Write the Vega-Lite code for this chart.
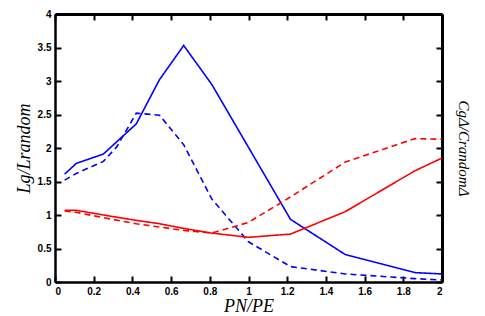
{
  "$schema": "https://vega.github.io/schema/vega-lite/v6.json",
  "width": 387,
  "height": 268,
  "autosize": {"type": "none"},
  "padding": {"left": 55, "top": 14, "right": 43, "bottom": 34},
  "background": "white",
  "config": {
    "view": {"stroke": null},
    "axis": {
      "grid": false,
      "labelFont": "Liberation Sans",
      "labelFontWeight": "bold",
      "labelFontSize": 10,
      "labelColor": "black",
      "titleFont": "Liberation Serif",
      "titleFontStyle": "italic",
      "titleFontWeight": "normal",
      "titleFontSize": 18,
      "titleColor": "black"
    }
  },
  "data": {
    "values": [
      {"P": 0.05, "v": 1.61, "s": "Lg solid"},
      {"P": 0.11, "v": 1.77, "s": "Lg solid"},
      {"P": 0.25, "v": 1.91, "s": "Lg solid"},
      {"P": 0.42, "v": 2.36, "s": "Lg solid"},
      {"P": 0.54, "v": 3.02, "s": "Lg solid"},
      {"P": 0.665, "v": 3.53, "s": "Lg solid"},
      {"P": 0.81, "v": 2.95, "s": "Lg solid"},
      {"P": 1.217, "v": 0.935, "s": "Lg solid"},
      {"P": 1.5, "v": 0.41, "s": "Lg solid"},
      {"P": 1.86, "v": 0.14, "s": "Lg solid"},
      {"P": 2.0, "v": 0.12, "s": "Lg solid"},

      {"P": 0.05, "v": 1.52, "s": "Lg dashed"},
      {"P": 0.11, "v": 1.62, "s": "Lg dashed"},
      {"P": 0.25, "v": 1.8, "s": "Lg dashed"},
      {"P": 0.32, "v": 2.02, "s": "Lg dashed"},
      {"P": 0.42, "v": 2.52, "s": "Lg dashed"},
      {"P": 0.54, "v": 2.49, "s": "Lg dashed"},
      {"P": 0.665, "v": 2.05, "s": "Lg dashed"},
      {"P": 0.81, "v": 1.24, "s": "Lg dashed"},
      {"P": 1.0, "v": 0.6, "s": "Lg dashed"},
      {"P": 1.217, "v": 0.23, "s": "Lg dashed"},
      {"P": 1.5, "v": 0.12, "s": "Lg dashed"},
      {"P": 1.86, "v": 0.05, "s": "Lg dashed"},
      {"P": 2.0, "v": 0.03, "s": "Lg dashed"},

      {"P": 0.05, "v": 1.07, "s": "C solid"},
      {"P": 0.11, "v": 1.07, "s": "C solid"},
      {"P": 0.25, "v": 1.0, "s": "C solid"},
      {"P": 0.42, "v": 0.92, "s": "C solid"},
      {"P": 0.54, "v": 0.87, "s": "C solid"},
      {"P": 0.665, "v": 0.8, "s": "C solid"},
      {"P": 0.81, "v": 0.73, "s": "C solid"},
      {"P": 1.0, "v": 0.667, "s": "C solid"},
      {"P": 1.217, "v": 0.715, "s": "C solid"},
      {"P": 1.5, "v": 1.05, "s": "C solid"},
      {"P": 1.86, "v": 1.66, "s": "C solid"},
      {"P": 2.0, "v": 1.85, "s": "C solid"},

      {"P": 0.05, "v": 1.06, "s": "C dashed"},
      {"P": 0.11, "v": 1.04, "s": "C dashed"},
      {"P": 0.25, "v": 0.96, "s": "C dashed"},
      {"P": 0.42, "v": 0.87, "s": "C dashed"},
      {"P": 0.54, "v": 0.82, "s": "C dashed"},
      {"P": 0.665, "v": 0.77, "s": "C dashed"},
      {"P": 0.81, "v": 0.73, "s": "C dashed"},
      {"P": 1.0, "v": 0.89, "s": "C dashed"},
      {"P": 1.217, "v": 1.27, "s": "C dashed"},
      {"P": 1.5, "v": 1.79, "s": "C dashed"},
      {"P": 1.86, "v": 2.14, "s": "C dashed"},
      {"P": 2.0, "v": 2.13, "s": "C dashed"}
    ]
  },
  "layer": [
    {
      "mark": {"type": "line", "strokeWidth": 1.6, "clip": true},
      "encoding": {
        "x": {"field": "P", "type": "quantitative",
              "scale": {"domain": [0, 2], "nice": false, "zero": false},
              "axis": {"orient": "bottom", "title": "PN/PE", "values": [0, 0.2, 0.4, 0.6, 0.8, 1, 1.2, 1.4, 1.6, 1.8, 2], "format": "~f",
                       "domain": true, "domainColor": "black", "domainWidth": 2.5, "domainOpacity": 1,
                       "ticks": true, "tickSize": -6, "tickWidth": 2, "tickColor": "#000000", "tickOpacity": 1,
                       "labelPadding": 10, "titlePadding": 1}},
        "y": {"field": "v", "type": "quantitative",
              "scale": {"domain": [0, 4], "nice": false},
              "axis": {"orient": "left", "title": "Lg/Lrandom", "values": [0, 0.5, 1, 1.5, 2, 2.5, 3, 3.5, 4], "format": "~f",
                       "domain": true, "domainColor": "black", "domainWidth": 2.5, "domainOpacity": 1,
                       "ticks": true, "tickSize": -6, "tickWidth": 2, "tickColor": "#000000", "tickOpacity": 1,
                       "labelPadding": 10, "titlePadding": 4}},
        "color": {"field": "s", "type": "nominal",
                  "scale": {"domain": ["Lg solid", "Lg dashed", "C solid", "C dashed"], "range": ["#0000ff", "#0000ff", "#ff0000", "#ff0000"]},
                  "legend": null},
        "strokeDash": {"field": "s", "type": "nominal",
                       "scale": {"domain": ["Lg solid", "Lg dashed", "C solid", "C dashed"], "range": [[1, 0], [6, 4], [1, 0], [6, 4]]},
                       "legend": null},
        "detail": {"field": "s"}
      }
    },
    {
      "mark": {"type": "line", "opacity": 0},
      "encoding": {
        "x": {"field": "P", "type": "quantitative",
              "axis": {"orient": "top", "title": null, "labels": false, "values": [0, 0.2, 0.4, 0.6, 0.8, 1, 1.2, 1.4, 1.6, 1.8, 2],
                       "domain": true, "domainColor": "black", "domainWidth": 3, "domainOpacity": 1,
                       "ticks": true, "tickSize": -6, "tickWidth": 2, "tickColor": "#000000", "tickOpacity": 1}},
        "y": {"field": "v", "type": "quantitative",
              "axis": {"orient": "right", "title": "CgΔ/CrandomΔ", "titleFontSize": 15, "labels": false, "titleAngle": 90, "titlePadding": 12,
                       "values": [0, 0.5, 1, 1.5, 2, 2.5, 3, 3.5, 4],
                       "domain": true, "domainColor": "black", "domainWidth": 3, "domainOpacity": 1,
                       "ticks": true, "tickSize": -6, "tickWidth": 2, "tickColor": "#000000", "tickOpacity": 1}},
        "detail": {"field": "s"}
      }
    }
  ],
  "resolve": {"axis": {"x": "independent", "y": "independent"}}
}
